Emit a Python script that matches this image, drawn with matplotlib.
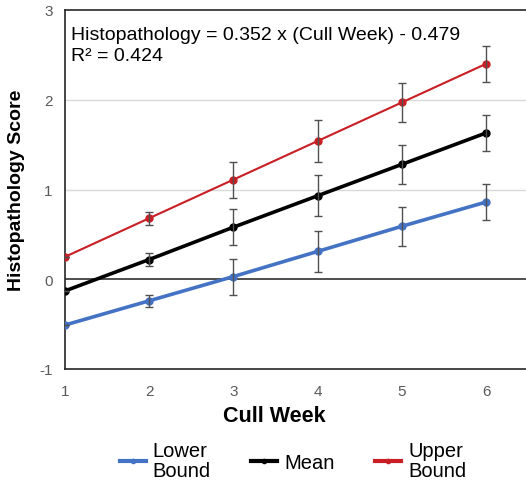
import matplotlib
matplotlib.use("Agg")
import matplotlib.pyplot as plt

plt.rcParams['font.family'] = ['Liberation Sans', 'DejaVu Sans']
plt.rcParams['axes.unicode_minus'] = False

weeks = [1, 2, 3, 4, 5, 6]
lower = [-0.51, -0.24, 0.03, 0.31, 0.59, 0.86]
mean = [-0.13, 0.22, 0.58, 0.93, 1.28, 1.63]
upper = [0.25, 0.68, 1.11, 1.54, 1.97, 2.40]
err = [0.0, 0.07, 0.20, 0.23, 0.22, 0.20]
y_ticks = [-1, 0, 1, 2, 3]
x_ticks = [1, 2, 3, 4, 5, 6]
equation = "Histopathology = 0.352 x (Cull Week) - 0.479\nR² = 0.424"

fig = plt.figure(figsize=(5.26, 4.85), dpi=100)
ax = fig.add_axes([65/526, 115/485, 1 - 65/526, 359/485])

for yv in [1, 2]:
    ax.axhline(yv, color='#D9D9D9', lw=1.0, zorder=0)
ax.axhline(0, color='#404040', lw=1.3, zorder=1)

series = [
    (lower, '#4472C4', 2.6, "Lower\nBound"),
    (mean, '#000000', 2.6, "Mean"),
    (upper, '#C81E24', 1.5, "Upper\nBound"),
]
handles = []
for vals, col, lw, lab in series:
    ax.errorbar(weeks, vals, yerr=err, fmt='none', ecolor='#505050',
                elinewidth=1.0, capsize=3, capthick=1.0, zorder=4)
    h, = ax.plot(weeks, vals, color=col, lw=lw, marker='o', ms=5, zorder=3, label=lab)
    handles.append(h)

ax.set_xlim(1, 6.475)
ax.set_ylim(-1, 3)
ax.set_xticks(x_ticks)
ax.set_yticks(y_ticks)
ax.tick_params(axis='x', length=0, labelsize=11, labelcolor='#595959', pad=11)
ax.tick_params(axis='y', length=0, labelsize=11, labelcolor='#595959', pad=9)
for s in ['left', 'top', 'bottom']:
    ax.spines[s].set_color('#262626')
    ax.spines[s].set_linewidth(1.2)
ax.spines['right'].set_visible(False)

ax.set_xlabel("Cull Week", fontsize=15.5, fontweight='bold', labelpad=5)
ax.xaxis.set_label_coords((274 - 65) / 461, -0.1)
ax.set_ylabel("Histopathology Score", fontsize=14, fontweight='bold', labelpad=10)

ax.text(0.013, 0.955, equation, transform=ax.transAxes, ha='left', va='top',
        fontsize=14, color='#000000', linespacing=1.3)

leg = fig.legend(handles=handles, loc='lower center', bbox_to_anchor=(0.557, -0.03),
                 ncol=3, frameon=False, fontsize=14.5, handlelength=1.3,
                 columnspacing=2.0, handletextpad=0.35, markerscale=0.6)
for t in leg.get_texts():
    t.set_linespacing(1.1)
for lh in leg.legend_handles:
    lh.set_linewidth(3)

fig.savefig("out.png", dpi=100)
